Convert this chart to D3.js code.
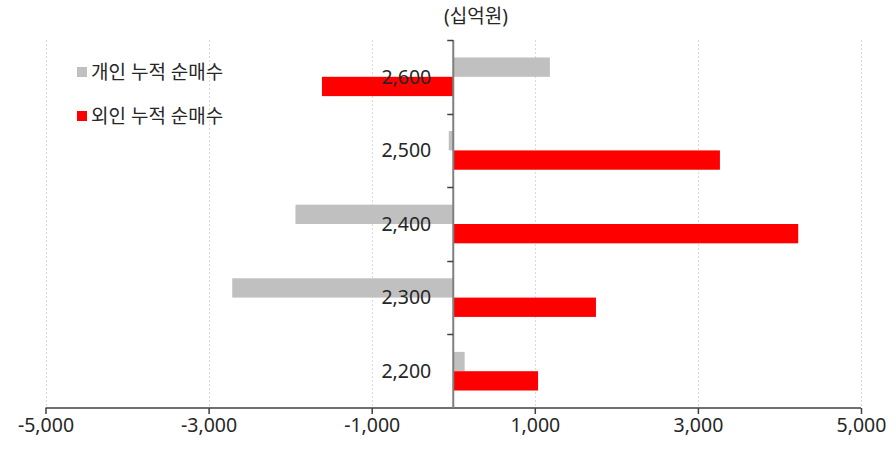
<!DOCTYPE html>
<html><head><meta charset="utf-8">
<script src="https://cdn.jsdelivr.net/npm/d3@7"></script>
<style>body{margin:0;background:#fff}svg{display:block}</style>
</head><body><svg id="c" width="896" height="450"></svg>
<script>
const categories = ["2,200","2,300","2,400","2,500","2,600"];
const individual = [140, -2710, -1935, -55, 1185];
const foreign = [1040, 1750, 4230, 3270, -1610];
const seriesNames = ["개인 누적 순매수","외인 누적 순매수"];
const xTicks = [-5000,-3000,-1000,1000,3000,5000];
const unitLabel = "(십억원)";

(function(){
const svg = d3.select("#c");
const font = "'Noto Sans','Noto Sans CJK KR',sans-serif";
const pl = 45.5, pr = 861, pt = 40, pb = 408;
const x = d3.scaleLinear().domain([-5000,5000]).range([pl,pr]);
const y = d3.scaleBand().domain(categories.slice().reverse()).range([pt,pb]).paddingInner(0.475).paddingOuter(0.2375);
const sub = d3.scaleBand().domain([0,1]).range([0,y.bandwidth()]);
const colors = ["#c0c0c0","#ff0000"];
const fmt = d3.format(",");

// gridlines
svg.append("g").selectAll("line").data(xTicks).join("line")
  .attr("x1",d=>Math.round(x(d))+0.5).attr("x2",d=>Math.round(x(d))+0.5)
  .attr("y1",pt).attr("y2",pb)
  .attr("stroke","#d9d9d9").attr("stroke-dasharray","2,2").attr("stroke-width",1);

// bars
const data = categories.map((c,i)=>({c, v:[individual[i], foreign[i]]}));
const g = svg.append("g");
data.forEach(d=>{
  d.v.forEach((v,j)=>{
    g.append("rect")
      .attr("x", x(Math.min(0,v))).attr("width", Math.abs(x(v)-x(0)))
      .attr("y", y(d.c)+sub(j)).attr("height", sub.bandwidth())
      .attr("fill", colors[j]);
  });
});

// x axis
const xa = svg.append("g").attr("transform",`translate(0,${pb})`)
  .call(d3.axisBottom(x).tickValues(xTicks).tickSize(6).tickFormat(d=>fmt(d).replace("−","-")));
xa.select(".domain").attr("stroke","#404040").attr("stroke-width",1.5).attr("d",`M${pl},0H${pr}`);
xa.selectAll(".tick line").attr("stroke","#404040").attr("stroke-width",1.5);
xa.selectAll(".tick text").attr("font-family",font).attr("font-size",19.5).attr("fill","#262626").attr("dy","0.95em").attr("y",5);

// y axis at zero
const yb = d3.scaleBand().domain(categories.slice().reverse()).range([pt,pb]);
const ya = svg.append("g").attr("transform",`translate(${x(0)},0)`);
ya.append("line").attr("x1",0).attr("x2",0).attr("y1",pt).attr("y2",pb).attr("stroke","#7f7f7f").attr("stroke-width",2);
const bounds = yb.domain().map(c=>yb(c));
ya.selectAll("line.t").data(bounds).join("line").attr("class","t")
  .attr("x1",-6).attr("x2",0).attr("y1",d=>Math.round(d)+0.5).attr("y2",d=>Math.round(d)+0.5)
  .attr("stroke","#404040").attr("stroke-width",1.5);
ya.selectAll("text").data(categories).join("text")
  .attr("x",-22).attr("y",d=>yb(d)+yb.bandwidth()/2).attr("dy","0.35em")
  .attr("text-anchor","end").attr("font-family",font).attr("font-size",19.5).attr("fill","#262626")
  .text(d=>d);

// unit label
svg.append("text").attr("x",476).attr("y",16).attr("dy","0.35em").attr("text-anchor","middle")
  .attr("font-family",font).attr("font-size",19).attr("fill","#262626").text(unitLabel);

// legend
const lg = svg.append("g");
seriesNames.forEach((n,i)=>{
  const cy = 72 + i*44;
  lg.append("rect").attr("x",77).attr("y",cy-5).attr("width",10).attr("height",10).attr("fill",colors[i]);
  lg.append("text").attr("x",91).attr("y",cy).attr("dy","0.35em").attr("font-family",font)
    .attr("font-size",19).attr("fill","#262626").text(n);
});
})();
</script></body></html>
